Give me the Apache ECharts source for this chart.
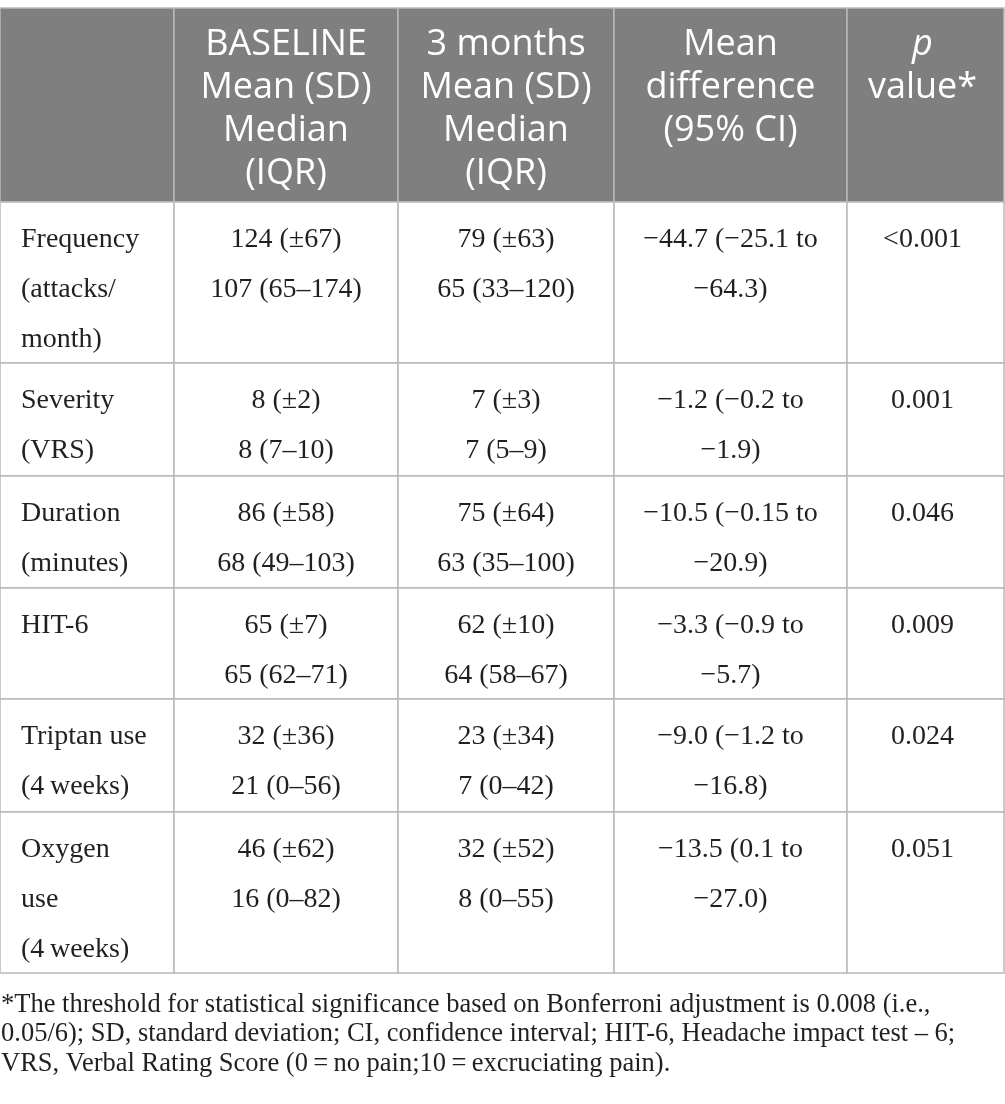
<!DOCTYPE html>
<html>
<head>
<meta charset="utf-8">
<script src="https://cdn.jsdelivr.net/npm/echarts@6/dist/echarts.min.js"></script>
<style>
html,body{margin:0;padding:0;background:#fff;}
#chart{width:1005px;height:1104px;}
</style>
</head>
<body>
<div id="chart"></div>
<script>
// ---- Data ----
const headers = ['', 'BASELINE\nMean (SD)\nMedian\n(IQR)', '3 months\nMean (SD)\nMedian\n(IQR)', 'Mean\ndifference\n(95% CI)', '{i|p}\n{n|value*}'];
const rowLabels = ['Frequency\n(attacks/\nmonth)', 'Severity\n(VRS)', 'Duration\n(minutes)', 'HIT-6', 'Triptan use\n(4\u2009weeks)', 'Oxygen\nuse\n(4\u2009weeks)'];
const baseline = ['124 (±67)\n107 (65–174)', '8 (±2)\n8 (7–10)', '86 (±58)\n68 (49–103)', '65 (±7)\n65 (62–71)', '32 (±36)\n21 (0–56)', '46 (±62)\n16 (0–82)'];
const months3 = ['79 (±63)\n65 (33–120)', '7 (±3)\n7 (5–9)', '75 (±64)\n63 (35–100)', '62 (±10)\n64 (58–67)', '23 (±34)\n7 (0–42)', '32 (±52)\n8 (0–55)'];
const meanDiff = ['\u221244.7 (\u221225.1 to\n\u221264.3)', '\u22121.2 (\u22120.2 to\n\u22121.9)', '\u221210.5 (\u22120.15 to\n\u221220.9)', '\u22123.3 (\u22120.9 to\n\u22125.7)', '\u22129.0 (\u22121.2 to\n\u221216.8)', '\u221213.5 (0.1 to\n\u221227.0)'];
const pValues = ['<0.001', '0.001', '0.046', '0.009', '0.024', '0.051'];
const footnote = '*The threshold for statistical significance based on Bonferroni adjustment is 0.008 (i.e.,\n0.05/6); SD, standard deviation; CI, confidence interval; HIT-6, Headache impact test \u2013 6;\nVRS, Verbal Rating Score (0\u2009=\u2009no pain;10\u2009=\u2009excruciating pain).';

// ---- Layout (table grid edges in axis units) ----
const colEdges = [0, 174, 398, 614, 847, 1004];
const rowEdges = [8, 202, 363, 476, 588, 699, 812, 973];

const bodyColumns = [rowLabels, baseline, months3, meanDiff, pValues];
function cellText(c, r) {
  if (r === 0) return headers[c];
  return bodyColumns[c][r - 1];
}

const cells = [];
for (let r = 0; r < rowEdges.length - 1; r++) {
  for (let c = 0; c < colEdges.length - 1; c++) cells.push([c, r]);
}

const HEAD_FONT = '"Open Sans", "Noto Sans", sans-serif';
const BODY_FONT = '"Liberation Serif", "Times New Roman", serif';

function renderItem(params, api) {
  const c = api.value(0), r = api.value(1);
  const p0 = api.coord([colEdges[c], rowEdges[r]]);
  const p1 = api.coord([colEdges[c + 1], rowEdges[r + 1]]);
  const isHeader = r === 0;
  const children = [{
    type: 'rect',
    shape: { x: p0[0], y: p0[1], width: p1[0] - p0[0], height: p1[1] - p0[1] },
    style: { fill: isHeader ? '#7f7f7f' : '#ffffff', stroke: '#b9b9b9', lineWidth: 1.5 }
  }];
  const txt = cellText(c, r);
  if (txt) {
    const style = {
      text: txt,
      x: c === 0 ? p0[0] + 21 : (p0[0] + p1[0]) / 2 - (c === 4 ? 3 : 0),
      y: p0[1] + (isHeader ? 15.5 : 12.5),
      align: c === 0 ? 'left' : 'center',
      verticalAlign: 'top',
      fill: isHeader ? '#ffffff' : '#231f20',
      fontFamily: isHeader ? HEAD_FONT : BODY_FONT,
      fontSize: isHeader ? 36 : 28,
      lineHeight: isHeader ? 43 : 50
    };
    if (isHeader) {
      style.rich = {
        i: { fontStyle: 'italic', fontFamily: HEAD_FONT, fontSize: 36, lineHeight: 43, fill: '#ffffff', align: 'center' },
        n: { fontFamily: HEAD_FONT, fontSize: 36, lineHeight: 43, fill: '#ffffff', align: 'center' }
      };
    }
    children.push({ type: 'text', style: style });
  }
  return { type: 'group', children: children };
}

const chart = echarts.init(document.getElementById('chart'), null, { renderer: 'canvas' });
chart.setOption({
  animation: false,
  backgroundColor: '#ffffff',
  grid: { left: 0, right: 0, top: 0, bottom: 0 },
  xAxis: { type: 'value', min: 0, max: 1005, show: false },
  yAxis: { type: 'value', min: 0, max: 1104, inverse: true, show: false },
  series: [{
    type: 'custom',
    coordinateSystem: 'cartesian2d',
    renderItem: renderItem,
    data: cells,
    clip: false
  }],
  graphic: [{
    type: 'text',
    left: 1,
    top: 990,
    style: {
      text: footnote,
      fontFamily: BODY_FONT,
      fontSize: 26.5,
      lineHeight: 29.5,
      fill: '#231f20'
    }
  }]
});
</script>
</body>
</html>
